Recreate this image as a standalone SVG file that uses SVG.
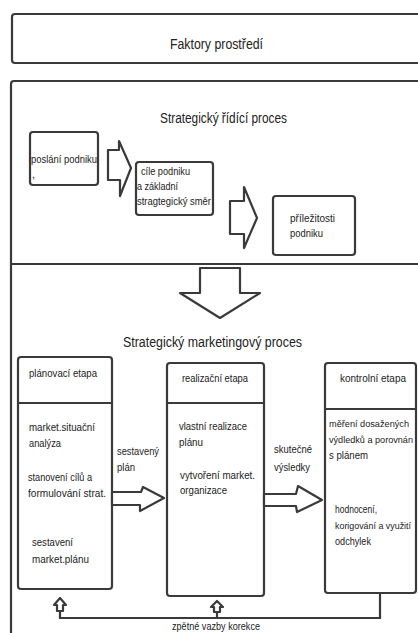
<svg xmlns="http://www.w3.org/2000/svg" width="418" height="633" viewBox="0 0 418 633">
<style>
.box{fill:none;stroke:#3a3a3a;stroke-width:2.2}
.arr{fill:#fff;stroke:#3a3a3a;stroke-width:2.2;stroke-linejoin:round}
.ln{fill:none;stroke:#3a3a3a;stroke-width:2.2}
text{font-family:"Liberation Sans",Arial,sans-serif;fill:#222}
.t{font-size:14px}
.s{font-size:11px}
.n{font-size:9.2px}
</style>
<rect width="418" height="633" fill="#fff"/>

<g id="faktory">
<path class="box" d="M425,14 H15 Q12,14 12,17 V60 Q12,63 15,63 H425"/>
<text class="t" x="170" y="49" textLength="93" lengthAdjust="spacingAndGlyphs">Faktory prostředí</text>
</g>

<g id="outer">
<path class="box" d="M425,81 H14 Q11,81 11,84 V640"/>
<line class="ln" x1="11" y1="264" x2="425" y2="264"/>
</g>

<g id="ridici-title">
<text class="t" x="160" y="123" textLength="127" lengthAdjust="spacingAndGlyphs">Strategický řídící proces</text>
</g>

<g id="poslani">
<rect class="box" x="30" y="132" width="68" height="53" rx="3"/>
<text class="s" x="31" y="163" textLength="66" lengthAdjust="spacingAndGlyphs">poslání podniku</text>
<text class="s" x="32" y="178">,</text>
</g>

<g id="cile">
<rect class="box" x="136" y="162" width="77" height="53" rx="3"/>
<text class="s" x="141" y="175" textLength="49" lengthAdjust="spacingAndGlyphs">cíle podniku</text>
<text class="s" x="137" y="190" textLength="41" lengthAdjust="spacingAndGlyphs">a základní</text>
<text class="s" x="137" y="205" textLength="74" lengthAdjust="spacingAndGlyphs">stragtegický směr</text>
</g>

<g id="prilezitosti">
<rect class="box" x="273" y="196" width="82" height="59" rx="3"/>
<text class="s" x="290" y="222" textLength="45" lengthAdjust="spacingAndGlyphs">příležitosti</text>
<text class="s" x="290" y="237" textLength="33" lengthAdjust="spacingAndGlyphs">podniku</text>
</g>

<g id="marketing-title">
<text class="t" x="123" y="347" textLength="179" lengthAdjust="spacingAndGlyphs">Strategický marketingový proces</text>
</g>

<g id="planovaci">
<rect class="box" x="18" y="357" width="94" height="232" rx="3"/>
<line class="ln" x1="18" y1="403" x2="112" y2="403"/>
<text class="s" x="29" y="377" textLength="68" lengthAdjust="spacingAndGlyphs">plánovací etapa</text>
<text class="s" x="29" y="431" textLength="66" lengthAdjust="spacingAndGlyphs">market.situační</text>
<text class="s" x="29" y="447" textLength="32" lengthAdjust="spacingAndGlyphs">analýza</text>
<text class="s" x="28" y="481" textLength="64" lengthAdjust="spacingAndGlyphs">stanovení cílů a</text>
<text class="s" x="28" y="497" textLength="78" lengthAdjust="spacingAndGlyphs">formulování strat.</text>
<text class="s" x="32" y="546" textLength="41" lengthAdjust="spacingAndGlyphs">sestavení</text>
<text class="s" x="32" y="563" textLength="57" lengthAdjust="spacingAndGlyphs">market.plánu</text>
</g>

<g id="realizacni">
<rect class="box" x="167" y="363" width="97" height="233" rx="3"/>
<line class="ln" x1="167" y1="403" x2="264" y2="403"/>
<text class="s" x="182" y="382" textLength="66" lengthAdjust="spacingAndGlyphs">realizační etapa</text>
<text class="s" x="179" y="430" textLength="68" lengthAdjust="spacingAndGlyphs">vlastní realizace</text>
<text class="s" x="179" y="446" textLength="24" lengthAdjust="spacingAndGlyphs">plánu</text>
<text class="s" x="180" y="479" textLength="75" lengthAdjust="spacingAndGlyphs">vytvoření market.</text>
<text class="s" x="180" y="494" textLength="47" lengthAdjust="spacingAndGlyphs">organizace</text>
</g>

<g id="kontrolni">
<rect class="box" x="325" y="363" width="91" height="230" rx="3"/>
<line class="ln" x1="325" y1="409" x2="416" y2="409"/>
<text class="s" x="340" y="382" textLength="66" lengthAdjust="spacingAndGlyphs">kontrolní etapa</text>
<text class="n" x="329" y="427" textLength="80" lengthAdjust="spacingAndGlyphs">měření dosažených</text>
<text class="n" x="329" y="443" textLength="84" lengthAdjust="spacingAndGlyphs">výdledků a porovnán</text>
<text class="s" x="329" y="459" textLength="39" lengthAdjust="spacingAndGlyphs">s plánem</text>
<text class="s" x="335" y="513" textLength="42" lengthAdjust="spacingAndGlyphs">hodnocení,</text>
<text class="n" x="335" y="529" textLength="76" lengthAdjust="spacingAndGlyphs">korigování a využití</text>
<text class="s" x="335" y="545" textLength="36" lengthAdjust="spacingAndGlyphs">odchylek</text>
</g>

<g id="connectors">
<polygon class="arr" points="108,150 119,150 119,141 131,168 120,196 120,180 108,180"/>
<polygon class="arr" points="230,201 244,201 244,187 257,218 244,248 244,234 230,234"/>
<polygon class="arr" points="200,268 240,268 240,293 260,293 220,318 180,293 200,293"/>
<polygon class="arr" points="112,492 141,492 143,487 164,498 140,511 140,505 112,505"/>
<polygon class="arr" points="264,494 296,494 298,486 322,500 297,512 296,506 264,506"/>
<polyline class="ln" points="380,593 380,618 60,618 60,610"/>
<line class="ln" x1="217" y1="618" x2="217" y2="611"/>
<polygon class="arr" points="60,598 66,605 63,605 63,611 57,611 57,605 54,605"/>
<polygon class="arr" points="217,601 223,607 220,607 220,612 214,612 214,607 211,607"/>
<text class="s" x="117" y="455" textLength="42" lengthAdjust="spacingAndGlyphs">sestavený</text>
<text class="s" x="117" y="471" textLength="18" lengthAdjust="spacingAndGlyphs">plán</text>
<text class="s" x="274" y="453" textLength="38" lengthAdjust="spacingAndGlyphs">skutečné</text>
<text class="s" x="274" y="471" textLength="36" lengthAdjust="spacingAndGlyphs">výsledky</text>
<text class="s" x="172" y="630" textLength="88" lengthAdjust="spacingAndGlyphs">zpětné vazby korekce</text>
</g>
</svg>
